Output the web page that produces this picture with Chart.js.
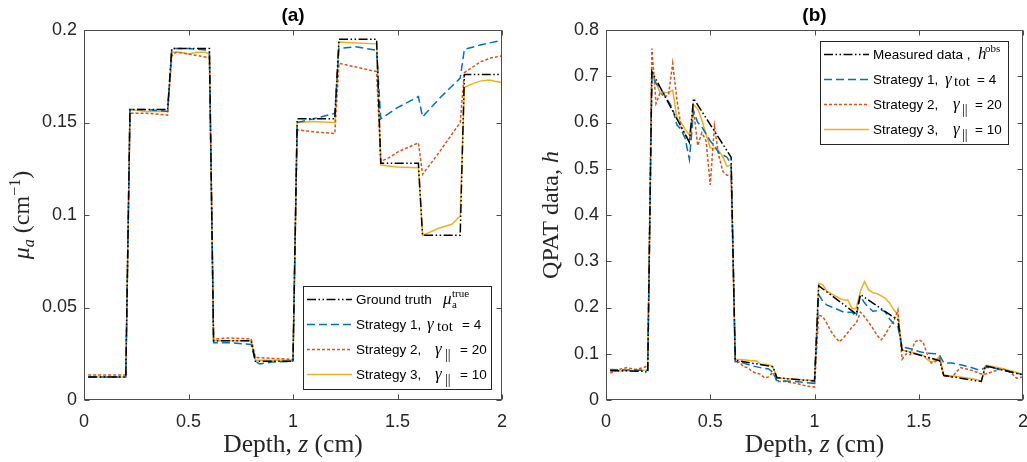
<!DOCTYPE html>
<html><head><meta charset="utf-8">
<script src="https://cdn.jsdelivr.net/npm/chart.js@4.4.1/dist/chart.umd.min.js"></script>
<style>
html{margin:0;padding:0;overflow:hidden;width:1027px;height:462px;background:#fff}
body{margin:0;padding:0;background:#fff;width:1100px;height:462px;position:relative}
#wa{position:absolute;left:0;top:0;width:520px;height:462px}
#wb{position:absolute;left:520px;top:0;width:512px;height:462px}
#ca{width:520px;height:462px;display:block}
#cb{width:512px;height:462px;display:block}
</style></head><body>
<div id="wa"><canvas id="ca" width="520" height="462"></canvas></div>
<div id="wb"><canvas id="cb" width="512" height="462"></canvas></div>
<script>
// ---------- tick values ----------
const xTickVals = [0, 0.5, 1, 1.5, 2];
const aTickVals = [0, 0.05, 0.1, 0.15, 0.2];
const bTickVals = [0, 0.1, 0.2, 0.3, 0.4, 0.5, 0.6, 0.7, 0.8];

// ---------- panel (a): absorption mu_a ----------
const gtX = [0.02,0.2,0.22,0.4,0.42,0.6,0.62,0.8,0.82,1.0,1.02,1.2,1.22,1.4,1.42,1.6,1.62,1.8,1.82,2.0];
const gtY = [0.0125,0.0125,0.157,0.157,0.19,0.19,0.032,0.032,0.021,0.021,0.152,0.152,0.195,0.195,0.128,0.128,0.089,0.089,0.176,0.176];

const s1aX = [0.02,0.2,0.22,0.3,0.4,0.42,0.5,0.6,0.62,0.7,0.8,0.82,0.84,0.9,1.0,1.02,1.1,1.2,1.22,1.3,1.4,1.42,1.5,1.6,1.62,1.7,1.8,1.82,1.9,2.0];
const s1aY = [0.0125,0.0125,0.157,0.157,0.156,0.19,0.19,0.189,0.031,0.031,0.03,0.021,0.0195,0.0205,0.021,0.15,0.152,0.155,0.19,0.191,0.189,0.152,0.158,0.164,0.153,0.163,0.174,0.1895,0.192,0.1945];

const s2aX = [0.02,0.2,0.22,0.3,0.4,0.42,0.44,0.5,0.6,0.62,0.7,0.8,0.82,0.9,1.0,1.02,1.1,1.2,1.22,1.3,1.4,1.42,1.46,1.5,1.54,1.6,1.62,1.7,1.8,1.82,1.86,1.9,1.95,2.0];
const s2aY = [0.0135,0.0135,0.155,0.155,0.154,0.186,0.188,0.187,0.185,0.033,0.0335,0.033,0.023,0.0225,0.022,0.146,0.145,0.144,0.182,0.18,0.1775,0.129,0.131,0.134,0.136,0.139,0.122,0.134,0.15,0.177,0.18,0.183,0.185,0.186];

const s3aX = [0.02,0.2,0.22,0.3,0.4,0.42,0.46,0.5,0.54,0.58,0.6,0.62,0.7,0.8,0.82,0.9,1.0,1.02,1.1,1.2,1.22,1.3,1.4,1.42,1.5,1.6,1.62,1.7,1.76,1.8,1.82,1.86,1.9,1.94,2.0];
const s3aY = [0.0125,0.0125,0.157,0.156,0.156,0.188,0.188,0.187,0.188,0.188,0.187,0.032,0.032,0.032,0.0215,0.0215,0.0215,0.15,0.1505,0.15,0.1935,0.193,0.1925,0.127,0.126,0.1255,0.089,0.093,0.095,0.0995,0.169,0.171,0.1725,0.173,0.1715];

// ---------- panel (b): QPAT data h ----------
const mX = [0.02,0.18,0.2,0.22,0.4,0.42,0.6,0.62,0.8,0.82,1.0,1.02,1.2,1.22,1.4,1.42,1.6,1.62,1.8,1.82,2.0];
const mY = [0.064,0.062,0.06,0.71,0.557,0.652,0.525,0.086,0.072,0.048,0.041,0.247,0.186,0.228,0.173,0.108,0.085,0.053,0.04,0.074,0.054];

const s1bX = [0.02,0.1,0.2,0.22,0.24,0.26,0.28,0.3,0.32,0.34,0.36,0.38,0.4,0.42,0.44,0.46,0.48,0.5,0.52,0.54,0.56,0.58,0.6,0.62,0.66,0.7,0.74,0.78,0.8,0.82,0.9,1.0,1.02,1.04,1.06,1.1,1.14,1.18,1.2,1.22,1.24,1.26,1.28,1.3,1.32,1.34,1.36,1.38,1.4,1.42,1.46,1.5,1.54,1.58,1.6,1.62,1.66,1.7,1.74,1.78,1.8,1.82,1.86,1.9,1.95,2.0];
const s1bY = [0.066,0.065,0.064,0.70,0.685,0.675,0.66,0.645,0.63,0.595,0.585,0.565,0.52,0.625,0.6,0.59,0.575,0.56,0.55,0.535,0.53,0.525,0.51,0.084,0.08,0.074,0.07,0.067,0.06,0.042,0.04,0.036,0.228,0.213,0.205,0.198,0.19,0.19,0.18,0.225,0.21,0.2,0.192,0.193,0.195,0.19,0.175,0.165,0.158,0.115,0.111,0.105,0.101,0.1,0.097,0.08,0.08,0.076,0.072,0.066,0.065,0.071,0.069,0.065,0.06,0.055];

const s2bX = [0.02,0.06,0.1,0.14,0.18,0.2,0.22,0.24,0.26,0.28,0.3,0.32,0.34,0.36,0.38,0.4,0.42,0.44,0.46,0.48,0.5,0.52,0.54,0.56,0.58,0.6,0.62,0.64,0.66,0.68,0.7,0.72,0.74,0.76,0.78,0.8,0.82,0.86,0.9,0.94,0.96,1.0,1.02,1.04,1.06,1.08,1.1,1.12,1.14,1.16,1.18,1.2,1.22,1.24,1.26,1.28,1.3,1.32,1.34,1.36,1.38,1.4,1.42,1.44,1.46,1.48,1.5,1.52,1.54,1.56,1.58,1.6,1.62,1.66,1.7,1.74,1.78,1.8,1.82,1.86,1.9,1.94,1.97,2.0];
const s2bY = [0.058,0.066,0.07,0.066,0.07,0.074,0.76,0.641,0.665,0.655,0.66,0.728,0.65,0.59,0.575,0.56,0.627,0.55,0.578,0.56,0.465,0.592,0.53,0.495,0.486,0.486,0.08,0.082,0.072,0.07,0.062,0.058,0.056,0.048,0.05,0.06,0.04,0.04,0.037,0.033,0.03,0.028,0.184,0.18,0.165,0.148,0.135,0.126,0.135,0.146,0.158,0.166,0.19,0.18,0.168,0.155,0.14,0.13,0.142,0.158,0.17,0.195,0.088,0.1,0.098,0.125,0.13,0.126,0.1,0.08,0.083,0.09,0.052,0.05,0.07,0.066,0.06,0.056,0.056,0.062,0.068,0.06,0.047,0.05];

const s3bX = [0.02,0.1,0.2,0.22,0.24,0.26,0.28,0.3,0.32,0.34,0.36,0.38,0.4,0.42,0.44,0.46,0.48,0.5,0.52,0.54,0.56,0.58,0.6,0.62,0.66,0.7,0.72,0.74,0.78,0.8,0.82,0.9,1.0,1.02,1.04,1.06,1.08,1.1,1.12,1.14,1.16,1.18,1.2,1.22,1.24,1.26,1.28,1.3,1.32,1.34,1.36,1.38,1.4,1.42,1.46,1.5,1.52,1.54,1.56,1.58,1.6,1.62,1.66,1.7,1.74,1.78,1.8,1.82,1.86,1.9,1.95,2.0];
const s3bY = [0.062,0.063,0.065,0.713,0.685,0.665,0.665,0.665,0.67,0.61,0.6,0.585,0.573,0.638,0.63,0.605,0.575,0.545,0.544,0.54,0.526,0.505,0.508,0.088,0.087,0.085,0.085,0.078,0.076,0.072,0.048,0.045,0.042,0.252,0.249,0.235,0.23,0.225,0.22,0.216,0.216,0.198,0.198,0.235,0.256,0.238,0.232,0.23,0.225,0.22,0.21,0.195,0.185,0.108,0.104,0.099,0.097,0.088,0.082,0.086,0.094,0.054,0.052,0.05,0.047,0.044,0.04,0.075,0.072,0.068,0.062,0.055];

// ---------- styles ----------
const SANS = '"Liberation Sans", Arial, Helvetica, sans-serif';
const SERIF = '"Liberation Serif", "Times New Roman", serif';
const FRAME = '#4d4d4d';
const TXT = '#262626';
const C_BLACK = '#000000', C_BLUE = '#0072BD', C_ORANGE = '#D95319', C_YELLOW = '#EDB120';
const D_BLACK = [9,2.5,1.5,2.5,1.5,2.5], D_BLUE = [8,4], D_ORANGE = [3,2], D_YELLOW = [];

function fontOf(s){ return (s.i?'italic ':'') + (s.b?'bold ':'') + s.s + 'px ' + (s.f==='serif'?SERIF:SANS); }
function drawSeq(ctx, segs, x, y){
  let w = 0;
  segs.forEach(s => { ctx.font = fontOf(s); s.w = ctx.measureText(s.t).width; w += s.w + (s.g||0); });
  let cx = x - w/2;
  segs.forEach(s => { ctx.font = fontOf(s); cx += (s.g||0); ctx.fillText(s.t, cx, y + (s.dy||0)); if(!s.nw) cx += s.w; });
}

const framePlugin = {
  id: 'frame',
  afterDatasetsDraw(chart){
    const {ctx, chartArea:a, scales:{x, y}} = chart;
    ctx.save();
    ctx.strokeStyle = FRAME; ctx.lineWidth = 1; ctx.setLineDash([]);
    const L = Math.round(a.left)+0.5, R = Math.round(a.right)-0.5, T = Math.round(a.top)+0.5, B = Math.round(a.bottom)-0.5;
    ctx.strokeRect(L, T, R-L, B-T);
    ctx.beginPath();
    x.ticks.forEach(t => { const px = Math.round(x.getPixelForValue(t.value))+0.5; ctx.moveTo(px,B); ctx.lineTo(px,B-5); ctx.moveTo(px,T); ctx.lineTo(px,T+5); });
    y.ticks.forEach(t => { const py = Math.round(y.getPixelForValue(t.value))+0.5; ctx.moveTo(L,py); ctx.lineTo(L+5,py); ctx.moveTo(R,py); ctx.lineTo(R-5,py); });
    ctx.stroke();
    ctx.restore();
  }
};

const decoPlugin = {
  id: 'deco',
  afterDraw(chart){
    const o = chart.options.plugins.deco; const ctx = chart.ctx; const a = chart.chartArea;
    ctx.save();
    ctx.fillStyle = '#000'; ctx.textBaseline = 'alphabetic';
    drawSeq(ctx, [{t:o.title, f:'sans', b:true, s:19}], (a.left+a.right)/2, 21);
    ctx.fillStyle = TXT;
    drawSeq(ctx, o.xTitle, (a.left+a.right)/2, 452);
    ctx.save();
    ctx.translate(o.yTitleX, (a.top+a.bottom)/2);
    ctx.rotate(-Math.PI/2);
    drawSeq(ctx, o.yTitle, 0, 0);
    ctx.restore();
    const [bx, by, bx2, by2] = o.legendBox;
    ctx.fillStyle = '#fff'; ctx.fillRect(bx, by, bx2-bx, by2-by);
    ctx.strokeStyle = '#262626'; ctx.lineWidth = 1; ctx.setLineDash([]);
    ctx.strokeRect(bx+0.5, by+0.5, bx2-bx-1, by2-by-1);
    chart.data.datasets.forEach((ds, i) => {
      const cy = by + 13 + 25*i;
      ctx.save();
      ctx.strokeStyle = ds.borderColor; ctx.lineWidth = ds.borderWidth; ctx.setLineDash(ds.borderDash || []);
      ctx.beginPath(); ctx.moveTo(bx+4, cy+0.5); ctx.lineTo(bx+49, cy+0.5); ctx.stroke();
      ctx.restore();
      ctx.fillStyle = '#000';
      o.legendRows[i].forEach(s => { ctx.font = fontOf(s); ctx.fillText(s.t, bx + 53 + s.dx, cy + 5 + (s.dy||0)); });
    });
    ctx.restore();
  }
};

function series(label, xs, ys, color, dash){
  return { label, data: xs.map((v,i)=>({x:v, y:ys[i]})), borderColor: color, borderDash: dash, borderWidth: 1.5,
           pointRadius: 0, tension: 0, fill: false, spanGaps: true };
}

function makeChart(id, datasets, yTicks, ymax, yAxisW, padRight, deco){
  return new Chart(document.getElementById(id), {
    type: 'line',
    data: { datasets },
    options: {
      responsive: false, animation: false, devicePixelRatio: 1,
      layout: { padding: { top: 30, right: padRight, left: 0, bottom: 0 } },
      plugins: { legend: {display:false}, tooltip: {enabled:false}, title: {display:false}, deco },
      scales: {
        x: { type: 'linear', min: 0, max: 2,
             afterBuildTicks: s => { s.ticks = xTickVals.map(v => ({value:v})); },
             afterFit: s => { s.height = 62; },
             grid: {display:false, drawTicks:true, tickLength: 11}, border: {display:false},
             ticks: { color: TXT, font: {family: SANS, size: 18}, padding: 0, maxRotation: 0, autoSkip: false,
                      callback: v => String(+(+v).toFixed(3)) } },
        y: { type: 'linear', min: 0, max: ymax,
             afterBuildTicks: s => { s.ticks = yTicks.map(v => ({value:v})); },
             afterFit: s => { s.width = yAxisW; },
             grid: {display:false, drawTicks:false}, border: {display:false},
             ticks: { color: TXT, font: {family: SANS, size: 18}, padding: 7, autoSkip: false,
                      callback: v => String(+(+v).toFixed(3)) } }
      }
    },
    plugins: [framePlugin, decoPlugin]
  });
}

const gammaTot = (lead, gx, tx, ex, val) => [
  {t:lead, f:'sans', s:13.5, dx:0},
  {t:'\u03B3', f:'serif', i:true, s:17, dx:gx, dy:0},
  {t:'tot', f:'serif', s:15, dx:tx, dy:2},
  {t:val, f:'sans', s:13.5, dx:ex}];
const gammaPar = (lead, gx, tx, ex, val) => [
  {t:lead, f:'sans', s:13.5, dx:0},
  {t:'\u03B3', f:'serif', i:true, s:17, dx:gx, dy:0},
  {t:'||', f:'serif', s:14, dx:tx, dy:5},
  {t:val, f:'sans', s:13.5, dx:ex}];

const xTitleSegs = () => [
  {t:'Depth, ', f:'serif', s:25.5}, {t:'z', f:'serif', i:true, s:25.5}, {t:' (cm)', f:'serif', s:25.5}];

makeChart('ca', [
  series('Ground truth', gtX, gtY, C_BLACK, D_BLACK),
  series('Strategy 1', s1aX, s1aY, C_BLUE, D_BLUE),
  series('Strategy 2', s2aX, s2aY, C_ORANGE, D_ORANGE),
  series('Strategy 3', s3aX, s3aY, C_YELLOW, D_YELLOW)
], aTickVals, 0.2, 84, 18, {
  title: '(a)',
  xTitle: xTitleSegs(),
  yTitleX: 29,
  yTitle: [{t:'\u03BC', f:'serif', i:true, s:24}, {t:'a', f:'serif', i:true, s:16, dy:5},
           {t:' (cm', f:'serif', s:24}, {t:'\u22121', f:'serif', s:16, dy:-9}, {t:')', f:'serif', s:24}],
  legendBox: [303, 286, 492, 390],
  legendRows: [
    [{t:'Ground truth', f:'sans', s:13.5, dx:0}, {t:'\u03BC', f:'serif', i:true, s:17, dx:87},
     {t:'a', f:'serif', s:11, dx:96, dy:4}, {t:'true', f:'serif', s:11, dx:96, dy:-7}],
    gammaTot('Strategy 1,', 71, 81, 106, '= 4'),
    gammaPar('Strategy 2,', 79, 89, 104, '= 20'),
    gammaPar('Strategy 3,', 79, 89, 104, '= 10')
  ]
});

makeChart('cb', [
  series('Measured data', mX, mY, C_BLACK, D_BLACK),
  series('Strategy 1', s1bX, s1bY, C_BLUE, D_BLUE),
  series('Strategy 2', s2bX, s2bY, C_ORANGE, D_ORANGE),
  series('Strategy 3', s3bX, s3bY, C_YELLOW, D_YELLOW)
], bTickVals, 0.8, 86, 9, {
  title: '(b)',
  xTitle: xTitleSegs(),
  yTitleX: 38,
  yTitle: [{t:'QPAT data, ', f:'serif', s:24}, {t:'h', f:'serif', i:true, s:24}],
  legendBox: [300, 41, 489, 145],
  legendRows: [
    [{t:'Measured data ,', f:'sans', s:13.5, dx:0}, {t:'h', f:'serif', i:true, s:17, dx:105},
     {t:'obs', f:'serif', s:11, dx:112, dy:-7}],
    gammaTot('Strategy 1,', 72, 81, 104, '= 4'),
    gammaPar('Strategy 2,', 80, 89, 102, '= 20'),
    gammaPar('Strategy 3,', 80, 89, 102, '= 10')
  ]
});
</script>
</body></html>
